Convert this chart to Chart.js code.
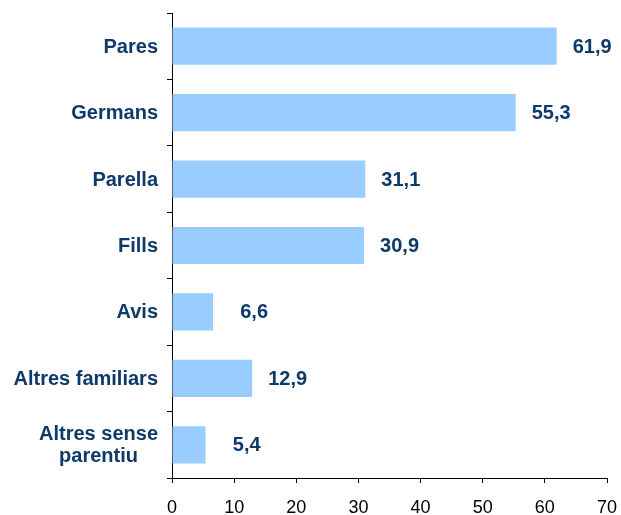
<!DOCTYPE html>
<html><head><meta charset="utf-8">
<script src="https://cdn.jsdelivr.net/npm/chart.js@4"></script>
<style>html,body{margin:0;padding:0;background:#fff}#wrap{width:621px;height:515px}</style>
</head><body><div id="wrap"><canvas id="c" width="621" height="515"></canvas></div>
<script>
const categories = ["Pares", "Germans", "Parella", "Fills", "Avis", "Altres familiars", ["Altres sense", "parentiu"]];
const values = [61.9, 55.3, 31.1, 30.9, 6.6, 12.9, 5.4];
const xTicks = [0, 10, 20, 30, 40, 50, 60, 70];

const navy = '#0E3A6A';
const FONT = '"Liberation Sans", Arial, sans-serif';
const labelPlugin = {
  id: 'vlabels',
  afterDatasetsDraw(chart) {
    const ctx = chart.ctx, meta = chart.getDatasetMeta(0), ys = chart.scales.y;
    ctx.save();
    ctx.font = 'bold 20px ' + FONT;
    ctx.fillStyle = navy;
    ctx.textBaseline = 'middle';
    ctx.textAlign = 'right';
    meta.data.forEach((bar, i) => {
      ctx.fillText(values[i].toFixed(1).replace('.', ','), bar.x + 55, bar.y + 1);
    });
    const right = ys.right - 14;
    categories.forEach((lab, i) => {
      const lines = Array.isArray(lab) ? lab : [lab];
      const y = ys.getPixelForValue(i);
      const w = Math.max(...lines.map(l => ctx.measureText(l).width));
      const lh = 22;
      ctx.textAlign = 'center';
      lines.forEach((l, k) => {
        ctx.fillText(l, right - w / 2, y + 1 + (k - (lines.length - 1) / 2) * lh);
      });
    });
    ctx.restore();
  }
};

new Chart(document.getElementById('c'), {
  type: 'bar',
  data: { labels: categories, datasets: [{ data: values, backgroundColor: '#99CCFF', borderWidth: 0, categoryPercentage: 1, barPercentage: 0.56 }] },
  options: {
    indexAxis: 'y', responsive: false, animation: false,
    layout: { padding: { top: 13, right: 14, bottom: 0, left: 0 } },
    plugins: { legend: { display: false }, tooltip: { enabled: false } },
    scales: {
      x: {
        min: 0, max: 70,
        afterBuildTicks(s) { s.ticks = xTicks.map(v => ({ value: v })); },
        afterFit(s) { s.height = 37; s.paddingRight = 0; s.paddingLeft = 0; },
        grid: { drawOnChartArea: false, tickLength: 5, color: '#000' },
        border: { color: '#000', width: 1 },
        ticks: { color: '#000', font: { size: 18, family: FONT }, padding: 14, maxRotation: 0 }
      },
      y: {
        afterFit(s) { s.width = 172; s.paddingTop = 0; s.paddingBottom = 0; },
        grid: { drawOnChartArea: false, tickLength: 5, color: '#000', offset: true },
        border: { color: '#000', width: 1 },
        ticks: { display: false }
      }
    }
  },
  plugins: [labelPlugin]
});
</script></body></html>
